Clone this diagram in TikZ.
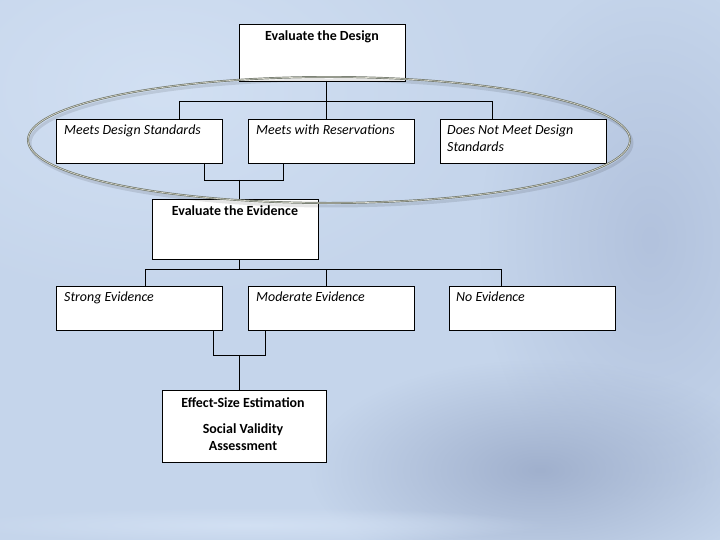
\documentclass[tikz,border=0pt]{standalone}
\usepackage{fontspec}
\setmainfont{Carlito}
\usetikzlibrary{fadings}
\tikzfading[name=softspot, inner color=transparent!0, outer color=transparent!100]
\begin{document}
\begin{tikzpicture}[x=1bp,y=-1bp,
  box/.style={draw=black, fill=white, line width=0.9pt, inner sep=0pt, outer sep=0pt, anchor=north west},
  conn/.style={draw=black, line width=0.8pt},
  head/.style={font=\fontsize{14}{16}\selectfont\bfseries, anchor=base, inner sep=0pt},
  item/.style={font=\fontsize{14}{16}\selectfont\itshape, anchor=base west, inner sep=0pt},
  ring/.style={line width=2pt, draw={rgb,255:red,112;green,118;blue,106}},
  ringhi/.style={line width=0.6pt, draw={rgb,255:red,222;green,222;blue,210}}]
\definecolor{bgbase}{RGB}{197,213,235}
\definecolor{bgdark}{RGB}{160,176,205}
\definecolor{bgmid}{RGB}{178,194,221}
\definecolor{bglight}{RGB}{210,224,243}
\useasboundingbox (0,0) rectangle (720,540);
% background
\fill[bgbase] (0,0) rectangle (720,540);
\fill[bglight, path fading=softspot] (160,90) ellipse [x radius=340bp, y radius=220bp];
\fill[bgmid, path fading=softspot] (650,240) ellipse [x radius=170bp, y radius=260bp];
\fill[bgdark, path fading=softspot] (540,470) ellipse [x radius=230bp, y radius=110bp];
\fill[bglight, path fading=softspot] (250,525) ellipse [x radius=300bp, y radius=18bp];
% boxes
\node[box, minimum width=166bp, minimum height=57bp] (design) at (239,24) {};
\node[box, minimum width=166bp, minimum height=44bp] (m1) at (56,119) {};
\node[box, minimum width=166bp, minimum height=44bp] (m2) at (248,119) {};
\node[box, minimum width=166bp, minimum height=44bp] (m3) at (440,119) {};
\node[box, minimum width=166bp, minimum height=60bp] (evid) at (152,199) {};
\node[box, minimum width=166bp, minimum height=44bp] (e1) at (56,286) {};
\node[box, minimum width=166bp, minimum height=44bp] (e2) at (248,286) {};
\node[box, minimum width=166bp, minimum height=44bp] (e3) at (449,286) {};
\node[box, minimum width=164bp, minimum height=72bp] (final) at (162,390) {};
% texts
\node[head] (tdesign) at (322,41) {Evaluate the Design};
\node[item] (tm1) at (64,135) {Meets Design Standards};
\node[item] (tm2) at (256,135) {Meets with Reservations};
\node[item] (tm3a) at (447,135) {Does Not Meet Design};
\node[item] (tm3b) at (447,152) {Standards};
\node[head] (tevid) at (235,216) {Evaluate the Evidence};
\node[item] (te1) at (64,301) {Strong Evidence};
\node[item] (te2) at (256,301) {Moderate Evidence};
\node[item] (te3) at (456,301) {No Evidence};
\node[head] (tf1) at (243,407) {Effect-Size Estimation};
\node[head] (tf2) at (243,433) {Social Validity};
\node[head] (tf3) at (243,450) {Assessment};
% connector junctions
\coordinate (a0) at (326,101);
\coordinate (aL) at (179,101);
\coordinate (aR) at (492,101);
\coordinate (bL) at (204,180);
\coordinate (bR) at (283,180);
\coordinate (bM) at (239,180);
\coordinate (c0) at (239,269);
\coordinate (cL) at (145,269);
\coordinate (cM) at (326,269);
\coordinate (cR) at (501,269);
\coordinate (dL) at (213,355);
\coordinate (dR) at (265,355);
\coordinate (dM) at (239,355);
% connectors
\draw[conn] (design.south -| a0) -- (a0);
\draw[conn] (aL |- m1.north) -- (aL) -- (aR) -- (aR |- m3.north);
\draw[conn] (a0) -- (a0 |- m2.north);
\draw[conn] (m1.south -| bL) -- (bL) -- (bR) -- (m2.south -| bR);
\draw[conn] (bM) -- (evid.north -| bM);
\draw[conn] (evid.south -| c0) -- (c0);
\draw[conn] (cL |- e1.north) -- (cL) -- (cR) -- (cR |- e3.north);
\draw[conn] (cM) -- (cM |- e2.north);
\draw[conn] (e1.south -| dL) -- (dL) -- (dR) -- (e2.south -| dR);
\draw[conn] (dM) -- (final.north -| dM);
% ellipse ring
\draw[line width=3pt, draw=black, opacity=0.10] (331,143) ellipse [x radius=301bp, y radius=63bp];
\draw[ring] (329,140) ellipse [x radius=301bp, y radius=63bp];
\draw[ringhi] (329,140) ellipse [x radius=301bp, y radius=63bp];
\end{tikzpicture}
\end{document}
